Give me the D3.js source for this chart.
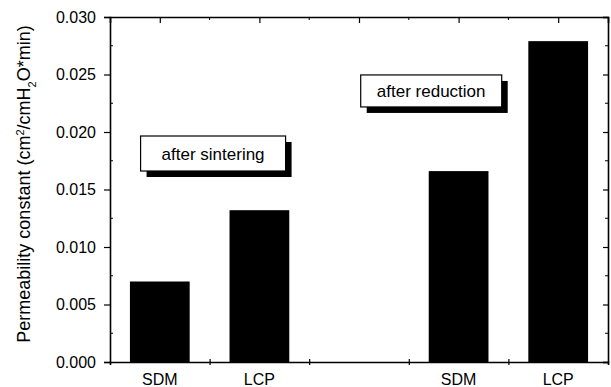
<!DOCTYPE html>
<html>
<head>
<meta charset="utf-8">
<script src="https://cdn.jsdelivr.net/npm/d3@7"></script>
<style>
  body { margin: 0; background: #fff; }
  svg { display: block; font-family: "Liberation Sans", Arial, sans-serif; }
</style>
</head>
<body>
<div id="chart"></div>
<script>
// values
var categories = ["SDM", "LCP", "SDM", "LCP"];
var positions = [1, 2, 4, 5];
var values = [0.0070, 0.0132, 0.0166, 0.0279];
var yTicks = [0, 0.005, 0.010, 0.015, 0.020, 0.025, 0.030];
var groupLabels = ["after sintering", "after reduction"];

var width = 611, height = 387;
var margin = { top: 17, right: 3, bottom: 25, left: 110 };

var svg = d3.select("#chart").append("svg")
  .attr("width", width).attr("height", height);

var x = d3.scaleLinear().domain([0.5, 5.5]).range([margin.left, width - margin.right]);
var y = d3.scaleLinear().domain([0, 0.030]).range([height - margin.bottom, margin.top]);

var minor = d3.range(0.0025, 0.030, 0.005);
var halfSteps = [1.5, 2.5, 3.5, 4.5];
var wholeSteps = [1, 2, 3, 4, 5];

// bars
svg.append("g").selectAll("rect")
  .data(values)
  .enter().append("rect")
  .attr("x", function (d, i) { return x(positions[i] - 0.3); })
  .attr("width", function (d, i) { return x(positions[i] + 0.3) - x(positions[i] - 0.3); })
  .attr("y", function (d) { return y(d); })
  .attr("height", function (d) { return y(0) - y(d); })
  .attr("fill", "#000");

// left axis: labelled ticks outside
var leftAxis = svg.append("g")
  .attr("transform", "translate(" + x(0.5) + ",0)")
  .call(d3.axisLeft(y).tickValues(yTicks).tickFormat(d3.format(".3f")).tickSize(6).tickPadding(8));
leftAxis.append("g").selectAll("line").data(minor).enter().append("line")
  .attr("x1", 0).attr("x2", 3).attr("y1", y).attr("y2", y).attr("stroke", "#000");

// right axis: ticks inward
var rightAxis = svg.append("g")
  .attr("transform", "translate(" + x(5.5) + ",0)")
  .call(d3.axisLeft(y).tickValues(yTicks).tickFormat("").tickSize(5));
rightAxis.append("g").selectAll("line").data(minor).enter().append("line")
  .attr("x1", 0).attr("x2", -3).attr("y1", y).attr("y2", y).attr("stroke", "#000");

// top axis: ticks inward
var topAxis = svg.append("g")
  .attr("transform", "translate(0," + y(0.030) + ")")
  .call(d3.axisBottom(x).tickValues(wholeSteps).tickFormat("").tickSize(6));
topAxis.append("g").selectAll("line").data(halfSteps).enter().append("line")
  .attr("x1", x).attr("x2", x).attr("y1", 0).attr("y2", 3).attr("stroke", "#000");

// bottom axis: crossing ticks between categories, labels under bars
var bottomAxis = svg.append("g")
  .attr("transform", "translate(0," + y(0) + ")")
  .call(d3.axisBottom(x).tickValues(halfSteps).tickFormat("").tickSize(3));
bottomAxis.selectAll(".tick line").attr("y1", -3);

svg.selectAll(".domain").attr("stroke-width", 1.6);
svg.selectAll(".tick line").attr("stroke-width", 1.2);
svg.selectAll(".tick text").attr("font-size", 16).attr("fill", "#000")
  .attr("font-family", "Liberation Sans, Arial, sans-serif");

svg.append("g").selectAll("text")
  .data(categories)
  .enter().append("text")
  .attr("x", function (d, i) { return x(positions[i]); })
  .attr("y", 385)
  .attr("text-anchor", "middle")
  .attr("font-size", 16)
  .text(function (d) { return d; });

// group annotation boxes with drop shadow
var boxes = [
  { x: 1.535, y: 0.01813, w: 145, h: 35 },
  { x: 3.725, y: 0.02357, w: 141, h: 32 }
];
boxes.forEach(function (b, i) {
  var cx = x(b.x), cy = y(b.y);
  var g = svg.append("g");
  g.append("rect").attr("x", cx - b.w / 2 + 6).attr("y", cy - b.h / 2 + 6)
    .attr("width", b.w).attr("height", b.h).attr("fill", "#000");
  g.append("rect").attr("x", cx - b.w / 2).attr("y", cy - b.h / 2)
    .attr("width", b.w).attr("height", b.h)
    .attr("fill", "#fff").attr("stroke", "#000").attr("stroke-width", 1.2);
  g.append("text").attr("x", cx).attr("y", cy + 6)
    .attr("text-anchor", "middle").attr("font-size", 17)
    .text(groupLabels[i]);
});

// y axis title
var title = svg.append("text")
  .attr("transform", "translate(30,184) rotate(-90)")
  .attr("text-anchor", "middle")
  .attr("font-size", 18);
title.append("tspan").text("Permeability constant (cm");
title.append("tspan").attr("baseline-shift", "super").attr("font-size", 11).text("2");
title.append("tspan").text("/cmH");
title.append("tspan").attr("baseline-shift", "sub").attr("font-size", 11).text("2");
title.append("tspan").text("O*min)");
</script>
</body>
</html>
